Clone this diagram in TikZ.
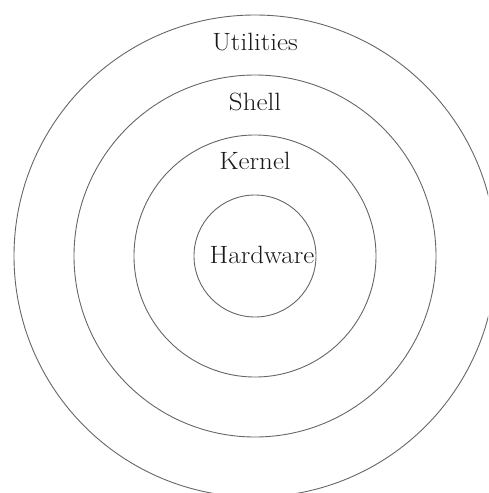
\documentclass[tikz,border=0pt]{standalone}
\begin{document}
\begin{tikzpicture}[x=1pt,y=-1pt,
  ring/.style={circle,draw=black!60,line width=0.9pt,inner sep=0pt},
  lbl/.style={font=\fontsize{25}{30}\selectfont,text=black!90,inner sep=0pt,transform shape,xscale=1.08}]
\useasboundingbox (0,0) rectangle (488,493);
\begin{scope}
\clip (0,0) rectangle (488,493);
\node[ring,minimum size=482pt] (util) at (255,256) {};
\node[ring,minimum size=362pt] (shell) at (255,256) {};
\node[ring,minimum size=242pt] (kern) at (255,256) {};
\node[ring,minimum size=122pt] (hw) at (255,256) {};
\end{scope}
\node[lbl] (tu) at (255,42) {Utilities};
\node[lbl] (ts) at (255,102) {Shell};
\node[lbl] (tk) at (255,161) {Kernel};
\node[lbl] (th) at (262,255) {Hardware};
\end{tikzpicture}
\end{document}
